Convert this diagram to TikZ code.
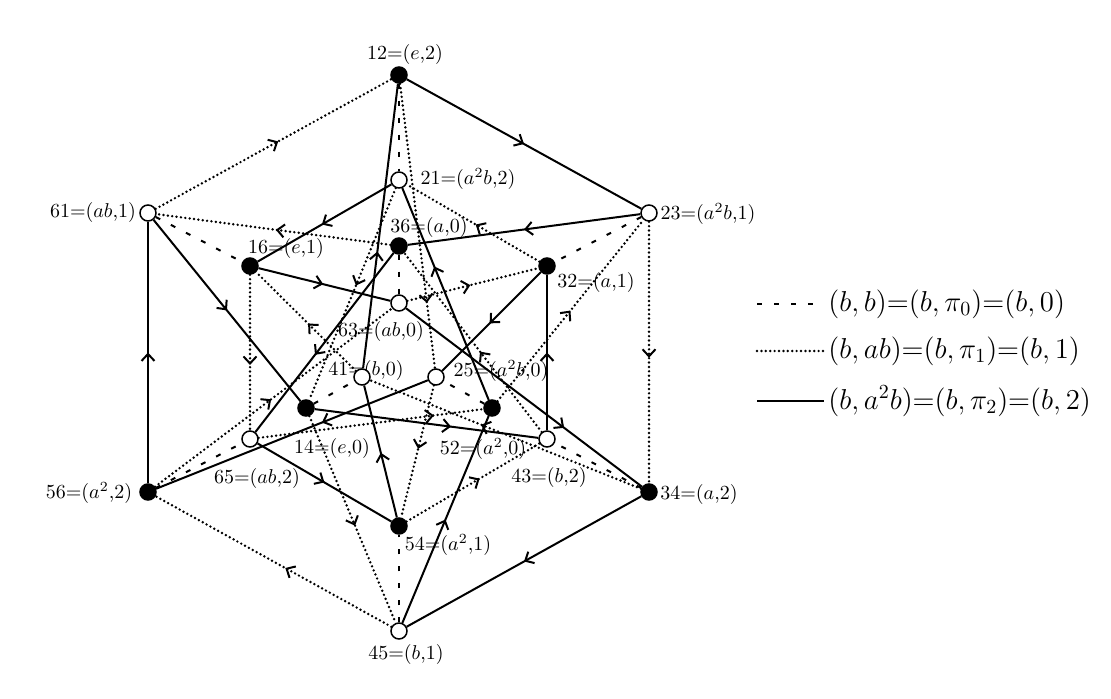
\documentclass[tikz,border=0pt]{standalone}
\usetikzlibrary{arrows.meta,decorations.markings,backgrounds}

\tikzset{
  vfull/.style={circle,draw,fill=black,inner sep=0pt,minimum size=8pt,line width=0.75pt},
  vopen/.style={circle,draw,fill=white,inner sep=0pt,minimum size=8pt,line width=0.75pt},
  vlab/.style={inner sep=0pt},
  klab/.style={anchor=west,inner sep=2pt,font=\fontsize{13.6}{16}\selectfont},
  bzero/.style={line width=1pt,dash pattern=on 2.5pt off 6pt},
  bone/.style={line width=1.35pt,line cap=round,dash pattern=on 0pt off 2.2pt},
  btwo/.style={line width=1pt},
  arr/.style={postaction={decorate},decoration={markings,
      mark=at position #1 with {\arrow{Straight Barb[length=3.5pt,width=6.5pt,line width=1pt]}}}},
}

\begin{document}
\begin{tikzpicture}[x=0.5pt,y=0.5pt,yscale=-1]
    \useasboundingbox (0,0) rectangle (1111,699);

    % labels
    \node[vlab] (t12) at (405,55) {12=($e$,2)};
    \node[vlab] (t23) at (708,214) {23=($a^2b$,1)};
    \node[vlab] (t34) at (699,494) {34=($a$,2)};
    \node[vlab] (t45) at (406,654) {45=($b$,1)};
    \node[vlab] (t56) at (89,493) {56=($a^2$,2)};
    \node[vlab] (t61) at (93,213) {61=($ab$,1)};
    \node[vlab] (t21) at (468,179) {21=($a^2b$,2)};
    \node[vlab] (t36) at (429,228) {36=($a$,0)};
    \node[vlab] (t16) at (286,249) {16=($e$,1)};
    \node[vlab] (t32) at (596,283) {32=($a$,1)};
    \node[vlab] (t63) at (381,331) {63=($ab$,0)};
    \node[vlab] (t41) at (366,370) {41=($b$,0)};
    \node[vlab] (t25) at (501,371) {25=($a^2b$,0)};
    \node[vlab] (t14) at (332,448) {14=($e$,0)};
    \node[vlab] (t52) at (483,449) {52=($a^2$,0)};
    \node[vlab] (t65) at (257,478) {65=($ab$,2)};
    \node[vlab] (t43) at (549,477) {43=($b$,2)};
    \node[vlab] (t54) at (448,545) {54=($a^2$,1)};

    % outer hexagon
    \node[vfull] (v12) at (399,75) {};
    \node[vopen] (v23) at (649,213) {};
    \node[vfull] (v34) at (649,492) {};
    \node[vopen] (v45) at (399,631) {};
    \node[vfull] (v56) at (148,492) {};
    \node[vopen] (v61) at (148,213) {};
    % inner points
    \node[vopen] (v21) at (399,180) {};
    \node[vopen] (v43) at (547,439) {};
    \node[vopen] (v65) at (250,439) {};
    \node[vfull] (v16) at (250,266) {};
    \node[vfull] (v32) at (547,266) {};
    \node[vfull] (v54) at (399,526) {};
    \node[vfull] (v36) at (399,246) {};
    \node[vfull] (v52) at (492,408) {};
    \node[vfull] (v14) at (306,408) {};
    \node[vopen] (v63) at (399,303) {};
    \node[vopen] (v25) at (436,377) {};
    \node[vopen] (v41) at (362,377) {};

    \begin{scope}[on background layer]
    % (b,0)
    \draw[bzero] (v12) -- (v21);
    \draw[bzero] (v34) -- (v43);
    \draw[bzero] (v56) -- (v65);
    \draw[bzero] (v23) -- (v32);
    \draw[bzero] (v45) -- (v54);
    \draw[bzero] (v61) -- (v16);
    \draw[bzero] (v36) -- (v63);
    \draw[bzero] (v52) -- (v25);
    \draw[bzero] (v14) -- (v41);

    % (b,1)
    \draw[bone,arr=0.52] (v61) -- (v12);
    \draw[bone,arr=0.52] (v23) -- (v34);
    \draw[bone,arr=0.45] (v45) -- (v56);
    \draw[bone,arr=0.77] (v12) -- (v25);
    \draw[bone,arr=0.59] (v34) -- (v41);
    \draw[bone,arr=0.49] (v56) -- (v63);
    \draw[bone,arr=0.46] (v21) -- (v14);
    \draw[bone,arr=0.45] (v43) -- (v36);
    \draw[bone,arr=0.78] (v65) -- (v52);
    \draw[bone,arr=0.48] (v32) -- (v21);
    \draw[bone,arr=0.55] (v54) -- (v43);
    \draw[bone,arr=0.58] (v16) -- (v65);
    \draw[bone,arr=0.49] (v36) -- (v61);
    \draw[bone,arr=0.5] (v52) -- (v23);
    \draw[bone,arr=0.53] (v14) -- (v45);
    \draw[bone,arr=0.48] (v41) -- (v16);
    \draw[bone,arr=0.48] (v63) -- (v32);
    \draw[bone,arr=0.48] (v25) -- (v54);

    % (b,2)
    \draw[btwo,arr=0.5] (v12) -- (v23);
    \draw[btwo,arr=0.5] (v34) -- (v45);
    \draw[btwo,arr=0.5] (v56) -- (v61);
    \draw[btwo,arr=0.41] (v41) -- (v12);
    \draw[btwo,arr=0.67] (v63) -- (v34);
    \draw[btwo,arr=0.39] (v25) -- (v56);
    \draw[btwo,arr=0.52] (v21) -- (v16);
    \draw[btwo,arr=0.5] (v43) -- (v32);
    \draw[btwo,arr=0.5] (v65) -- (v54);
    \draw[btwo,arr=0.63] (v52) -- (v21);
    \draw[btwo,arr=0.61] (v14) -- (v43);
    \draw[btwo,arr=0.57] (v36) -- (v65);
    \draw[btwo,arr=0.5] (v23) -- (v36);
    \draw[btwo,arr=0.5] (v45) -- (v52);
    \draw[btwo,arr=0.5] (v61) -- (v14);
    \draw[btwo,arr=0.49] (v16) -- (v63);
    \draw[btwo,arr=0.52] (v32) -- (v25);
    \draw[btwo,arr=0.49] (v54) -- (v41);
    \end{scope}

    % key
    \node[klab] (k0) at (824,304) {$(b,b){=}(b,\pi_0){=}(b,0)$};
    \node[klab] (k1) at (824,351) {$(b,ab){=}(b,\pi_1){=}(b,1)$};
    \node[klab] (k2) at (824,401) {$(b,a^2b){=}(b,\pi_2){=}(b,2)$};
    \coordinate (k0s) at (757,304);
    \coordinate (k1s) at (757,351);
    \coordinate (k2s) at (757,401);
    \draw[bzero] (k0s) -- (k0.west);
    \draw[bone] (k1s) -- (k1.west);
    \draw[btwo] (k2s) -- (k2.west);
\end{tikzpicture}
\end{document}
